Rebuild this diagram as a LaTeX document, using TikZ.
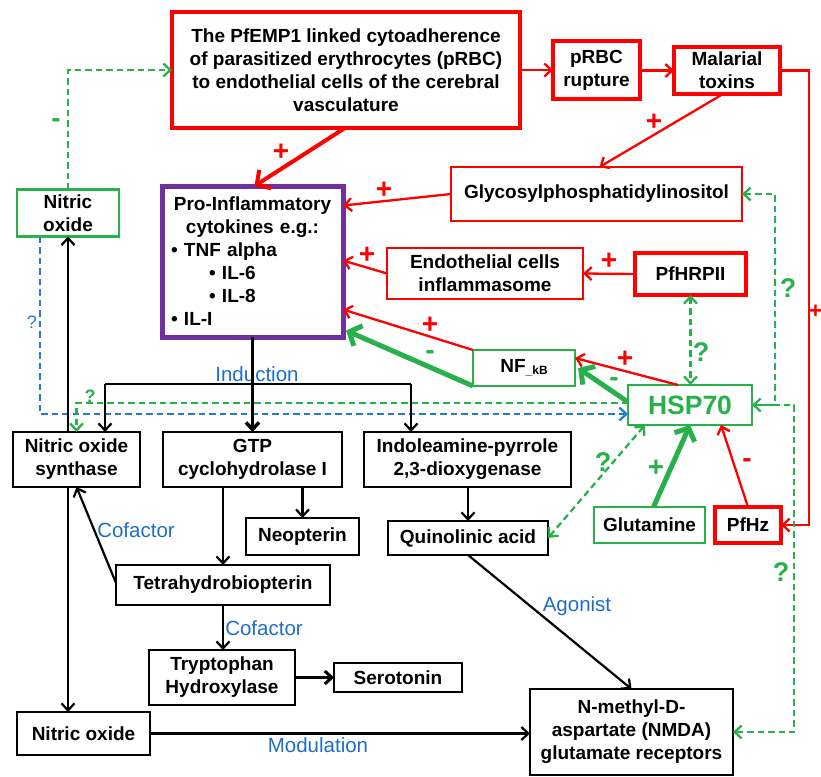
\documentclass[tikz,border=0pt]{standalone}
\usepackage{fontspec}
\setmainfont{Liberation Sans}
\usetikzlibrary{arrows.meta,calc}
\definecolor{myred}{RGB}{255,0,0}
\definecolor{mygreen}{RGB}{40,176,74}
\definecolor{mypurple}{RGB}{112,48,160}
\definecolor{myblue}{RGB}{31,110,198}
\definecolor{mydblue}{RGB}{40,120,214}
\begin{document}
\begin{tikzpicture}[x=1pt,y=-1pt,
  every node/.style={inner sep=0pt, outer sep=0pt},
  bx/.style={draw, align=center, font=\fontsize{19}{23}\selectfont\bfseries, fill=white},
  redthick/.style={bx, draw=myred, line width=4pt},
  redthin/.style={bx, draw=myred, line width=2pt},
  grbox/.style={bx, draw=mygreen, line width=2.5pt},
  blkbox/.style={bx, draw=black, line width=2pt},
  arr/.style={-{Straight Barb[length=7pt,width=13pt]}},
  darr/.style={{Straight Barb[length=7pt,width=13pt]}-{Straight Barb[length=7pt,width=13pt]}},
  bigarr/.style={-{Straight Barb[length=10pt,width=22pt]}},
  rl/.style={draw=myred, line width=2.3pt},
  gl/.style={draw=mygreen, line width=5pt},
  gd/.style={draw=mygreen, line width=2.3pt, dash pattern=on 6.5pt off 4pt},
  bd/.style={draw=mydblue, line width=2.3pt, dash pattern=on 6.5pt off 4pt},
  kl/.style={draw=black, line width=2.2pt},
  pm/.style={font=\fontsize{28}{28}\selectfont\bfseries},
  qm/.style={font=\fontsize{27}{27}\selectfont\bfseries, text=mygreen},
  lab/.style={font=\fontsize{20.5}{24}\selectfont, text=myblue}]
\useasboundingbox (0,0) rectangle (821,776);

% boxes
\node[redthick, minimum width=348pt, minimum height=116pt] (pf) at (346,70) {The PfEMP1 linked cytoadherence\\of parasitized erythrocytes (pRBC)\\to endothelial cells of the cerebral\\vasculature};
\node[redthick, minimum width=87pt, minimum height=58pt] (prbc) at (596.5,70) {pRBC\\rupture};
\node[redthick, minimum width=106pt, minimum height=47pt] (mal) at (727,70.5) {Malarial\\toxins};
\node[redthin, minimum width=291pt, minimum height=54pt] (gpi) at (596.5,194) {Glycosylphosphatidylinositol};
\node[bx, draw=mypurple, line width=5pt, minimum width=181pt, minimum height=151pt, text width=163pt, align=left] (pro) at (252.5,261.5)
  {{\centering Pro-Inflammatory\\cytokines e.g.:\par}\raggedright • TNF alpha\\\hspace*{38pt}• IL-6\\\hspace*{38pt}• IL-8\\• IL-I};
\node[grbox, minimum width=102pt, minimum height=47pt] (no1) at (68,213) {Nitric\\oxide};
\node[redthin, minimum width=196pt, minimum height=51pt] (endo) at (485,273.5) {Endothelial cells\\inflammasome};
\node[redthick, minimum width=111pt, minimum height=42pt] (hrp) at (690.5,274) {PfHRPII};
\node[grbox, minimum width=102pt, minimum height=36pt] (nfkb) at (524,368) {NF{\fontsize{12}{12}\selectfont\raisebox{-2pt}{\_kB}}};
\node[grbox, minimum width=124pt, minimum height=40pt, text=mygreen, font=\fontsize{26.5}{30}\selectfont\bfseries] (hsp) at (690,405) {HSP70};
\node[blkbox, minimum width=127pt, minimum height=55pt] (nos) at (76.5,459.5) {Nitric oxide\\synthase};
\node[blkbox, minimum width=179pt, minimum height=55pt] (gtp) at (252.5,459.5) {GTP\\cyclohydrolase I};
\node[blkbox, minimum width=207pt, minimum height=55pt] (ido) at (467.5,459.5) {Indoleamine-pyrrole\\2,3-dioxygenase};
\node[blkbox, minimum width=113pt, minimum height=37pt] (neo) at (302.5,536.5) {Neopterin};
\node[blkbox, minimum width=160pt, minimum height=34pt] (qa) at (468,538) {Quinolinic acid};
\node[grbox, minimum width=111pt, minimum height=36pt] (glu) at (649.5,525) {Glutamine};
\node[redthick, minimum width=66pt, minimum height=36pt] (hz) at (748,525) {PfHz};
\node[blkbox, minimum width=214pt, minimum height=40pt] (bh4) at (223,585) {Tetrahydrobiopterin};
\node[blkbox, minimum width=146pt, minimum height=55pt] (tph) at (222,677.5) {Tryptophan\\Hydroxylase};
\node[blkbox, minimum width=128pt, minimum height=29pt] (ser) at (398,677.5) {Serotonin};
\node[blkbox, minimum width=133pt, minimum height=43pt] (no2) at (83.5,733.5) {Nitric oxide};
\node[blkbox, minimum width=203pt, minimum height=86pt] (nmda) at (631.5,732) {N-methyl-D-\\aspartate (NMDA)\\glutamate receptors};

% red connectors
\draw[rl, arr] (prbc.west -| pf.east) -- (prbc.west);
\draw[rl, arr] (mal.west -| prbc.east) -- (mal.west);
\draw[rl, arr] (mal.east) -- ++(29,0) |- (hz.east);
\node[font=\fontsize{23}{23}\selectfont\bfseries, text=myred] at (815.5,312) {+};
\draw[rl, arr] ([xshift=-4pt]mal.south) -- ([xshift=3pt]gpi.north);
\node[pm, text=myred] at (654,122) {+};
\draw[draw=myred, line width=4pt, bigarr] ([xshift=-1pt]pf.south) -- ([xshift=2pt]pro.north);
\node[pm, text=myred] at (281,152) {+};
\draw[rl, arr] (gpi.west) -- ([yshift=56pt]pro.east);
\node[pm, text=myred] at (384,190) {+};
\draw[rl, arr] (endo.west) -- ([yshift=1pt]pro.east);
\node[pm, text=myred] at (367,255) {+};
\draw[rl, arr] (nfkb.north west) -- ([yshift=-48pt]pro.east);
\node[pm, text=myred] at (430,325) {+};
\draw[gl, bigarr] (nfkb.south west) -- ([xshift=3pt,yshift=-69pt]pro.east);
\node[pm, text=mygreen] at (430,355) {-};
\draw[rl, arr] (hrp.west) -- (endo.east);
\node[pm, text=myred] at (609,261) {+};
\draw[gd, darr] (hrp.south) -- (hsp.north -| hrp.south);
\node[qm] at (701,352) {?};
\draw[rl, arr] ([xshift=-12pt]hsp.north) -- ([yshift=10pt]nfkb.east);
\node[pm, text=myred] at (625,359) {+};
\draw[gl, bigarr] ([yshift=3pt]hsp.west) -- ([xshift=3pt]nfkb.east);
\node[pm, text=mygreen] at (614,382) {-};
\draw[gd, darr] (gpi.east) -- ++(33,0) |- (hsp.east);
\node[qm] at (788,288) {?};
\draw[gd, arr] (hsp.east) -- ++(42,0) |- (nmda.east);
\node[qm] at (781,572) {?};
\draw[gd, darr] ([xshift=-45pt]hsp.south) -- (qa.east);
\node[qm] at (603,462) {?};
\draw[gl, bigarr] ([xshift=4pt]glu.north) -- (hsp.south);
\node[pm, text=mygreen] at (656,468) {+};
\draw[rl, arr] (hz.north) -- ([xshift=31pt]hsp.south);
\node[pm, text=myred] at (747,463) {-};

% left dashed
\draw[gd, arr] (no1.north) |- (pf.west);
\node[pm, text=mygreen] at (56,123) {-};
\draw[bd, arr] ([xshift=-28pt]no1.south) |- ([yshift=-9pt]hsp.west);
\node[font=\fontsize{18}{18}\selectfont, text=mydblue] at (32,322) {?};
\draw[gd, arr] ([yshift=2pt]hsp.west) -| (nos.north);
\node[font=\fontsize{18}{18}\selectfont\bfseries, text=mygreen] at (90,396) {?};

% black connectors
\draw[kl, arr] (no1.south |- nos.north) -- (no1.south);
\draw[kl, arr] (no1.south |- nos.south) -- (no1.south |- no2.north);
\coordinate (ind) at (252.5,384);
\coordinate (nosin) at ([xshift=28.5pt]nos.north);
\coordinate (idoin) at ([xshift=-56.5pt]ido.north);
\draw[kl] (nosin |- ind) -- (idoin |- ind);
\draw[kl, arr] (nosin |- ind) -- (nosin);
\draw[kl, arr] (idoin |- ind) -- (idoin);
\node[lab] at (257,374) {Induction};
\draw[draw=black, line width=3.5pt, arr] (pro.south) -- (pro.south |- gtp.north);
\draw[kl, arr] (bh4.north |- gtp.south) -- (bh4.north);
\draw[kl, arr] (neo.north |- gtp.south) -- (neo.north);
\draw[kl, arr] ([yshift=2pt]bh4.west) -- (nos.south);
\node[lab] at (136,530) {Cofactor};
\draw[kl, arr] (bh4.south) -- (bh4.south |- tph.north);
\node[lab] at (264,628) {Cofactor};
\draw[draw=black, line width=3pt, arr] (tph.east) -- (ser.west);
\draw[kl, arr] (ido.south -| qa.north) -- (qa.north);
\draw[kl, arr] (qa.south) -- (nmda.north);
\node[lab] at (577,606) {Agonist};
\draw[kl, arr] (no2.east) -- (nmda.west |- no2.east);
\node[lab] at (318,745) {Modulation};
\end{tikzpicture}
\end{document}
